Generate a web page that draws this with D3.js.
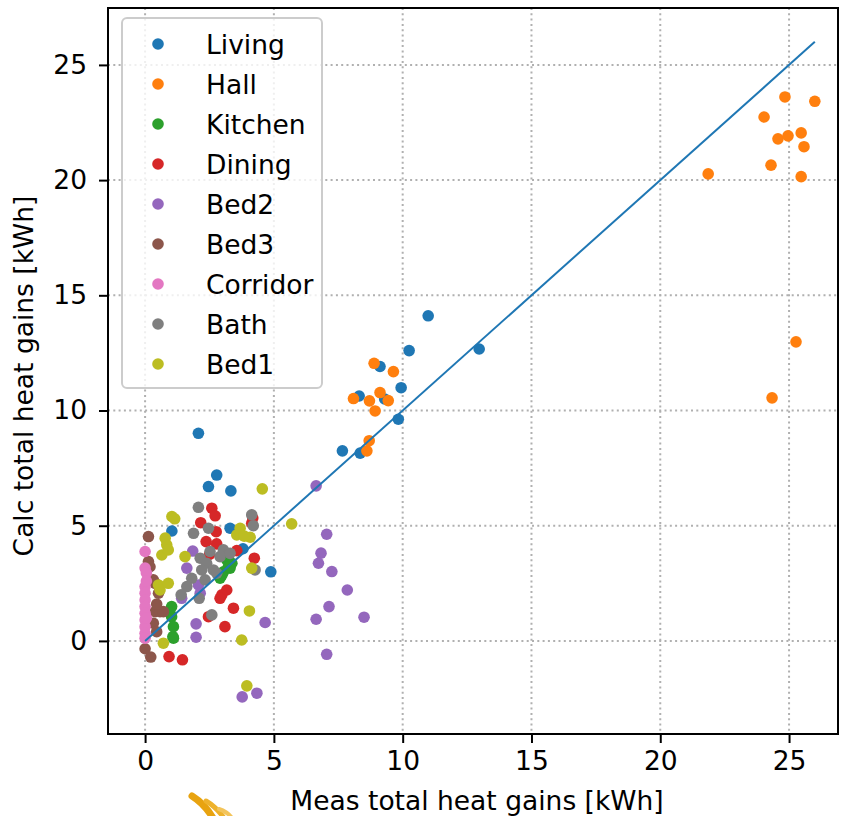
<!DOCTYPE html>
<html>
<head>
<meta charset="utf-8">
<script src="https://cdn.jsdelivr.net/npm/d3@7"></script>
<style>
  html, body { margin: 0; padding: 0; background: #ffffff; }
  svg { display: block; font-family: "DejaVu Sans", sans-serif; }
</style>
</head>
<body>
<svg id="chart" width="846" height="816"></svg>
<script>
// Measured vs calculated total heat gains per room, [meas, calc] in kWh
const living = [[10.99,14.11],[10.25,12.60],[12.97,12.67],[9.12,11.91],[9.94,10.99],[8.31,10.63],[9.30,10.50],[9.83,9.62],[7.66,8.25],[8.35,8.15],[4.88,3.00],[2.07,9.01],[2.78,7.20],[2.46,6.70],[3.33,6.51],[1.04,4.77],[3.30,4.89],[3.80,4.00]];
const hall = [[21.86,20.27],[24.03,22.74],[24.84,23.61],[26.00,23.42],[24.57,21.79],[24.96,21.92],[25.47,22.05],[25.58,21.45],[24.30,20.65],[25.47,20.15],[25.27,12.98],[24.34,10.55],[8.89,12.05],[9.64,11.69],[8.09,10.52],[8.71,10.42],[9.12,10.78],[9.44,10.43],[8.93,9.98],[8.70,8.69],[8.61,8.25]];
const kitchen = [[1.03,1.49],[1.03,1.05],[1.10,0.62],[1.08,0.19],[0.97,1.20],[1.10,0.12],[3.17,3.52],[3.30,3.16],[2.91,2.72],[3.04,3.00],[3.37,3.37],[3.23,3.22],[2.98,2.85]];
const dining = [[2.59,5.76],[2.72,5.43],[2.16,5.13],[2.76,4.74],[2.37,4.31],[2.78,4.21],[4.14,5.11],[4.18,5.33],[3.56,3.92],[4.24,3.59],[3.17,2.21],[2.98,2.00],[2.91,1.85],[3.43,1.42],[2.46,1.05],[3.10,0.62],[0.93,-0.68],[1.45,-0.82],[2.50,3.75]];
const bed2 = [[6.64,6.73],[7.05,4.63],[6.83,3.81],[6.73,3.37],[7.25,3.01],[7.85,2.21],[7.14,1.49],[6.64,0.94],[8.50,1.03],[7.05,-0.58],[4.66,0.80],[4.34,-2.27],[3.77,-2.43],[1.85,3.90],[1.62,3.16],[1.98,0.74],[1.98,0.16],[2.07,2.43],[1.42,1.85],[2.14,2.07]];
const bed3 = [[0.13,4.53],[0.13,3.44],[0.19,3.22],[0.32,2.65],[0.39,2.50],[0.52,2.07],[0.39,1.27],[0.58,1.27],[0.71,1.27],[0.32,0.77],[0.45,0.40],[0.00,-0.34],[0.22,-0.70],[0.45,1.60]];
const corridor = [[0,3.88],[0,3.16],[0.05,2.95],[0,2.36],[0,2.07],[0,1.78],[0,1.49],[0,1.20],[0,0.91],[0,0.62],[0,0.33],[0,0.12],[0.05,1.00],[0.05,2.60]];
const bath = [[2.07,5.80],[4.14,5.47],[1.88,4.67],[2.46,4.89],[2.14,3.59],[2.39,3.37],[2.65,3.08],[2.20,3.08],[3.04,3.95],[2.52,3.88],[2.91,3.66],[1.81,2.72],[1.62,2.36],[1.40,2.00],[2.10,1.85],[2.59,1.13],[4.27,3.08],[3.30,3.80],[2.78,2.94],[2.33,2.65],[4.20,5.00]];
const bed1 = [[4.55,6.60],[5.69,5.08],[1.04,5.40],[1.15,5.30],[0.78,4.46],[0.84,4.17],[0.65,3.73],[0.90,3.95],[1.55,3.66],[3.69,4.89],[3.56,4.60],[4.08,4.50],[3.85,4.55],[4.14,3.16],[0.52,2.43],[0.58,2.21],[0.90,2.50],[4.05,1.30],[0.71,-0.10],[3.75,0.04],[3.95,-1.95]];

const roomNames = ["Living","Hall","Kitchen","Dining","Bed2","Bed3","Corridor","Bath","Bed1"];
const roomData = [living, hall, kitchen, dining, bed2, bed3, corridor, bath, bed1];
const roomColors = ["#1f77b4","#ff7f0e","#2ca02c","#d62728","#9467bd","#8c564b","#e377c2","#7f7f7f","#bcbd22"];

const xTicks = [0, 5, 10, 15, 20, 25];
const yTicks = [0, 5, 10, 15, 20, 25];
const xDomain = [-1.44, 26.9];
const yDomain = [-4.04, 27.47];
const identityLine = [0, 26];

const xLabel = "Meas total heat gains [kWh]";
const yLabel = "Calc total heat gains [kWh]";

const svg = d3.select("#chart");
const plotL = 108, plotR = 838, plotT = 8, plotB = 734;
const fontSize = 26.5;
const dotR = 5.8;

const x = d3.scaleLinear().domain(xDomain).range([plotL, plotR]);
const y = d3.scaleLinear().domain(yDomain).range([plotB, plotT]);

// dotted grid
const grid = svg.append("g");
grid.selectAll("line.gx").data(xTicks).join("line")
  .attr("x1", d => x(d)).attr("x2", d => x(d))
  .attr("y1", plotT).attr("y2", plotB)
  .attr("stroke", "#b0b0b0").attr("stroke-width", 2)
  .attr("stroke-dasharray", "2,3.3");
grid.selectAll("line.gy").data(yTicks).join("line")
  .attr("y1", d => y(d)).attr("y2", d => y(d))
  .attr("x1", plotL).attr("x2", plotR)
  .attr("stroke", "#b0b0b0").attr("stroke-width", 2)
  .attr("stroke-dasharray", "2,3.3");

// scatter points per room
const clipId = "plotclip";
svg.append("clipPath").attr("id", clipId).append("rect")
  .attr("x", plotL).attr("y", plotT).attr("width", plotR - plotL).attr("height", plotB - plotT);

const pts = svg.append("g").attr("clip-path", `url(#${clipId})`);
roomData.forEach((rows, i) => {
  pts.append("g").selectAll("circle").data(rows).join("circle")
    .attr("cx", d => x(d[0]))
    .attr("cy", d => y(d[1]))
    .attr("r", dotR)
    .attr("fill", roomColors[i]);
});

// y = x reference line
pts.append("line")
  .attr("x1", x(identityLine[0])).attr("y1", y(identityLine[0]))
  .attr("x2", x(identityLine[1])).attr("y2", y(identityLine[1]))
  .attr("stroke", "#1f77b4").attr("stroke-width", 2);

// axes
const xAxis = d3.axisBottom(x).tickValues(xTicks).tickSize(9).tickPadding(8).tickFormat(d3.format("d"));
const yAxis = d3.axisLeft(y).tickValues(yTicks).tickSize(9).tickPadding(12).tickFormat(d3.format("d"));

const gx = svg.append("g").attr("transform", `translate(0,${plotB})`).call(xAxis);
const gy = svg.append("g").attr("transform", `translate(${plotL},0)`).call(yAxis);
[gx, gy].forEach(g => {
  g.select(".domain").remove();
  g.selectAll(".tick line").attr("stroke", "#000").attr("stroke-width", 2);
  g.selectAll(".tick text").attr("fill", "#000")
    .style("font-family", "DejaVu Sans").style("font-size", fontSize + "px");
});

// frame
svg.append("rect")
  .attr("x", plotL).attr("y", plotT).attr("width", plotR - plotL).attr("height", plotB - plotT)
  .attr("fill", "none").attr("stroke", "#000").attr("stroke-width", 2);

// axis labels
svg.append("text")
  .attr("x", (plotL + plotR) / 2 + 4).attr("y", 810)
  .attr("text-anchor", "middle").attr("fill", "#000")
  .style("font-size", fontSize + "px")
  .text(xLabel);
svg.append("text")
  .attr("transform", `translate(33,${(plotT + plotB) / 2 + 5}) rotate(-90)`)
  .attr("text-anchor", "middle").attr("fill", "#000")
  .style("font-size", fontSize + "px")
  .text(yLabel);

// legend
const lg = svg.append("g");
lg.append("rect")
  .attr("x", 122).attr("y", 18).attr("width", 200).attr("height", 370)
  .attr("rx", 5).attr("fill", "#fff").attr("fill-opacity", 0.8)
  .attr("stroke", "#cccccc").attr("stroke-width", 2);
const rows = lg.selectAll("g.row").data(roomNames).join("g")
  .attr("transform", (d, i) => `translate(0,${44 + i * 40})`);
rows.append("circle").attr("cx", 158).attr("cy", 0).attr("r", dotR)
  .attr("fill", (d, i) => roomColors[i]);
rows.append("text").attr("x", 206).attr("y", 0).attr("dy", "0.36em")
  .attr("fill", "#000").style("font-size", fontSize + "px")
  .text(d => d);

// partial emblem at the lower edge
const emblem = svg.append("g");
emblem.append("path")
  .attr("d", "M192,796 C200,801 207,808 213,818")
  .attr("fill", "none").attr("stroke", "#e8a310").attr("stroke-width", 7).attr("stroke-linecap", "round");
emblem.append("path")
  .attr("d", "M206,801 C213,805 219,811 224,818")
  .attr("fill", "none").attr("stroke", "#eeb22c").attr("stroke-width", 5).attr("stroke-linecap", "round");
emblem.append("path")
  .attr("d", "M219,809 C225,811 229,814 232,818")
  .attr("fill", "none").attr("stroke", "#f3c45a").attr("stroke-width", 4).attr("stroke-linecap", "round");
</script>
</body>
</html>
